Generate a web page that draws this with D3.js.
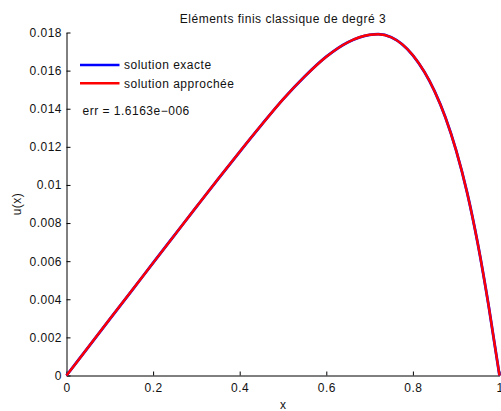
<!DOCTYPE html>
<html>
<head>
<meta charset="utf-8">
<script src="https://cdn.jsdelivr.net/npm/d3@7"></script>
<style>
  body { margin: 0; background: #fff; }
  text { font-family: "Liberation Sans", Arial, Helvetica, sans-serif; fill: #111; }
</style>
</head>
<body>
<svg id="graph" width="501" height="411"></svg>
<script>
  // values
  var xs = [0, 0.05, 0.1, 0.15, 0.2, 0.25, 0.3, 0.35, 0.4, 0.45, 0.5, 0.55, 0.6, 0.65, 0.7, 0.72, 0.75,
    0.8, 0.85, 0.875, 0.9, 0.925, 0.95, 0.975, 1];
  var exacte = [0, 0.00148, 0.00296, 0.00443, 0.00591, 0.00738, 0.00885, 0.01031, 0.01174, 0.01314, 0.01449,
    0.01569, 0.01673, 0.01749, 0.01788, 0.01791, 0.01775, 0.0168, 0.01492, 0.01355, 0.0118, 0.00962, 0.0069, 0.00365, 0];
  var approchee = [0, 0.00148, 0.00296, 0.00443, 0.00591, 0.00738, 0.00885, 0.01031, 0.01174, 0.01314, 0.01449,
    0.01569, 0.01673, 0.01749, 0.01788, 0.01791, 0.01775, 0.0168, 0.01492, 0.01355, 0.0118, 0.00962, 0.0069, 0.00365, 0];
  var xTicks = [0, 0.2, 0.4, 0.6, 0.8, 1];
  var xTickLabels = ['0', '0.2', '0.4', '0.6', '0.8', '1'];
  var yTicks = [0, 0.002, 0.004, 0.006, 0.008, 0.01, 0.012, 0.014, 0.016, 0.018];
  var yTickLabels = ['0', '0.002', '0.004', '0.006', '0.008', '0.01', '0.012', '0.014', '0.016', '0.018'];
  var seriesNames = ['solution exacte', 'solution approchée'];
  var seriesColors = ['#0000ff', '#ff0000'];
  var title = 'Eléments finis classique de degré 3';
  var errText = 'err = 1.6163e\u2212006';

  var svg = d3.select('#graph');
  var FONT = 12;

  var x = d3.scaleLinear().domain([0, 1]).range([66.5, 499.5]);
  var y = d3.scaleLinear().domain([0, 0.018]).range([375.5, 32.5]);

  var xAxis = d3.axisBottom(x)
    .tickValues(xTicks)
    .tickFormat(function(d, i) { return xTickLabels[i]; })
    .tickSizeInner(-4)
    .tickSizeOuter(0)
    .tickPadding(8);

  var yAxis = d3.axisLeft(y)
    .tickValues(yTicks)
    .tickFormat(function(d, i) { return yTickLabels[i]; })
    .tickSizeInner(-4)
    .tickSizeOuter(0)
    .tickPadding(4.5);

  function styleAxis(g) {
    g.attr('font-size', null).attr('font-family', null);
    g.selectAll('path, line').attr('stroke', '#000').attr('stroke-width', 1);
    g.selectAll('text')
      .style('font-size', FONT + 'px')
      .style('letter-spacing', '0.5px');
  }

  svg.append('g')
    .attr('transform', 'translate(0,' + y(0) + ')')
    .call(xAxis)
    .call(styleAxis);

  svg.append('g')
    .attr('transform', 'translate(' + x(0) + ',0)')
    .call(yAxis)
    .call(styleAxis);

  // curves: blue first, red on top
  var line = d3.line()
    .x(function(d) { return x(d[0]); })
    .y(function(d) { return y(d[1]); })
    .curve(d3.curveMonotoneX);

  [exacte, approchee].forEach(function(vals, k) {
    svg.append('path')
      .datum(xs.map(function(v, i) { return [v, vals[i]]; }))
      .attr('d', line)
      .attr('fill', 'none')
      .attr('stroke', seriesColors[k])
      .attr('stroke-width', k === 0 ? 2.8 : 2.4)
      .attr('stroke-linejoin', 'round');
  });

  // title
  svg.append('text')
    .attr('x', 283)
    .attr('y', 23)
    .attr('text-anchor', 'middle')
    .style('font-size', FONT + 'px')
    .style('letter-spacing', '0.5px')
    .text(title);

  // axis labels
  svg.append('text')
    .attr('x', x(0.5))
    .attr('y', 408.5)
    .attr('text-anchor', 'middle')
    .style('font-size', FONT + 'px')
    .text('x');

  svg.append('text')
    .attr('transform', 'translate(20.5,' + ((y(0) + y(0.018)) / 2) + ') rotate(-90)')
    .attr('text-anchor', 'middle')
    .style('font-size', FONT + 'px')
    .style('letter-spacing', '0.5px')
    .text('u(x)');

  // legend (no box)
  var legend = svg.append('g');
  seriesNames.forEach(function(name, i) {
    var ly = 65 + i * 18.3;
    legend.append('line')
      .attr('x1', 80).attr('x2', 119.5)
      .attr('y1', ly).attr('y2', ly)
      .attr('stroke', seriesColors[i])
      .attr('stroke-width', 2.5);
    legend.append('text')
      .attr('x', 124)
      .attr('y', ly + 4.4)
      .style('font-size', FONT + 'px')
      .style('letter-spacing', '0.5px')
      .text(name);
  });

  svg.append('text')
    .attr('x', 82.5)
    .attr('y', 115)
    .style('font-size', FONT + 'px')
    .style('letter-spacing', '0.5px')
    .text(errText);
</script>
</body>
</html>
